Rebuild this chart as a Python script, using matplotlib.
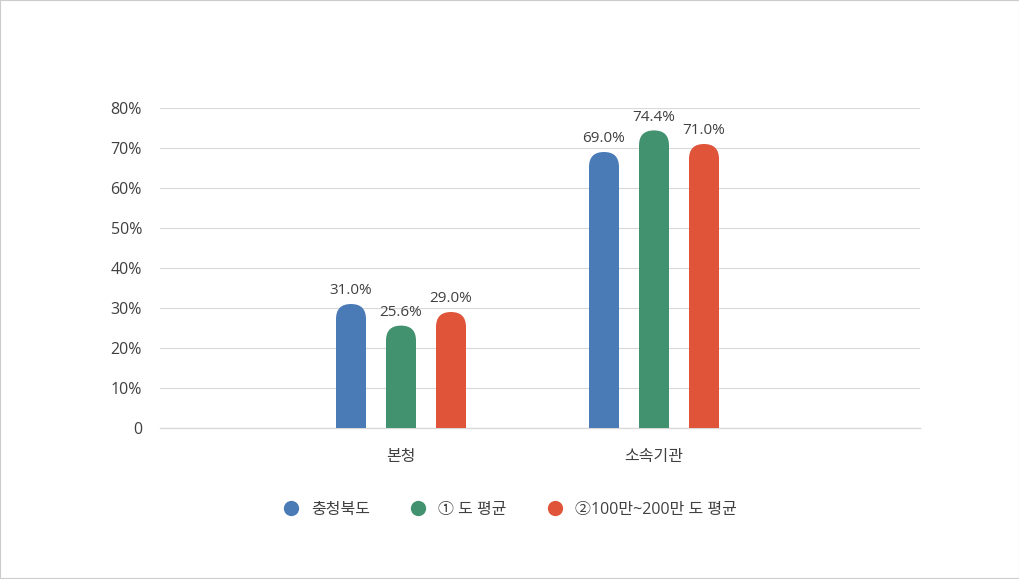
import matplotlib
matplotlib.use("Agg")
import matplotlib.pyplot as plt
from matplotlib.patches import FancyBboxPatch, Rectangle
from matplotlib.lines import Line2D

plt.rcParams['font.family'] = ['Open Sans', 'Noto Sans CJK KR', 'DejaVu Sans']

categories = ["본청", "소속기관"]
series_names = ["충청북도", "① 도 평균", "②100만~200만 도 평균"]
values = [
    [31.0, 69.0],
    [25.6, 74.4],
    [29.0, 71.0],
]
colors = ["#4a7bb7", "#43926f", "#e0553a"]
yticks = [0, 10, 20, 30, 40, 50, 60, 70, 80]
ytick_labels = ["0", "10%", "20%", "30%", "40%", "50%", "60%", "70%", "80%"]


def main():
    W, H = 1020, 579
    fig = plt.figure(figsize=(W / 100, H / 100), dpi=100)
    left, right, top, bottom = 160, 920, 108, 428
    ax = fig.add_axes([left / W, 1 - bottom / H, (right - left) / W, (bottom - top) / H])

    px_per_x = 253.0
    xmin = -241 / px_per_x
    xmax = 1 + 266 / px_per_x
    ax.set_xlim(xmin, xmax)
    ax.set_ylim(0, 80)
    px_per_y = (bottom - top) / 80.0

    bar_w = 30 / px_per_x
    offs = [-50 / px_per_x, 0, 50 / px_per_x]
    rad = bar_w / 2
    aspect = px_per_x / px_per_y

    # rounded-top bars, bottom pushed below 0 and clipped by the axes
    for s, (vals, col) in enumerate(zip(values, colors)):
        for i, v in enumerate(vals):
            x0 = i + offs[s] - bar_w / 2
            y0 = -10
            p = FancyBboxPatch((x0, y0), bar_w, v - y0,
                               boxstyle=f"round,pad=0,rounding_size={rad}",
                               mutation_aspect=aspect,
                               fc=col, ec="none", zorder=3)
            ax.add_patch(p)
            ax.annotate(f"{v:.1f}%", (i + offs[s], v), xytext=(0, 4),
                        textcoords="offset points", ha="center", va="bottom",
                        fontsize=11, color="#404040", zorder=4)

    ax.set_yticks(yticks)
    ax.set_yticklabels(ytick_labels)
    ax.grid(axis="y", color="#d9d9d9", linewidth=0.8, zorder=0)
    ax.set_xticks(range(len(categories)))
    ax.set_xticklabels(categories)
    ax.tick_params(axis="both", length=0, labelsize=11.5, colors="#404040")
    ax.tick_params(axis="y", pad=13)
    ax.tick_params(axis="x", pad=15)
    for sp in ax.spines.values():
        sp.set_visible(False)
    ax.axhline(0, color="#d9d9d9", linewidth=1.0, zorder=1, clip_on=False)

    handles = [Line2D([], [], marker="o", linestyle="none", markersize=11,
                      markerfacecolor=c, markeredgecolor="none") for c in colors]
    fig.legend(handles, series_names, loc="center", bbox_to_anchor=(0.5, 1 - 510 / H),
               ncol=3, frameon=False, fontsize=11.5, labelcolor="#404040",
               handletextpad=0.75, columnspacing=2.5, handlelength=1.0)

    fig.patches.append(Rectangle((0, 0), 1, 1, transform=fig.transFigure,
                                 fill=False, ec="#cccccc", lw=1.5))
    fig.savefig("out.png", dpi=100)


if __name__ == "__main__":
    main()
